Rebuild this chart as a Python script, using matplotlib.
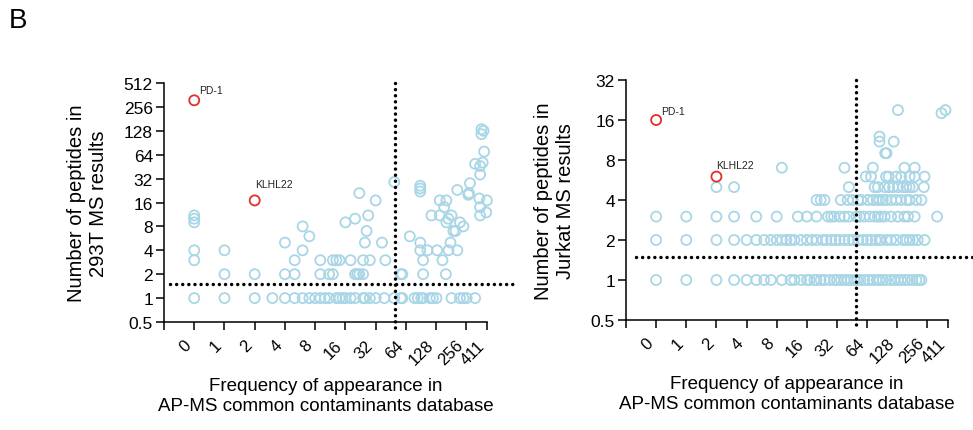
import numpy as np
import matplotlib
matplotlib.use("Agg")
import matplotlib.pyplot as plt
from matplotlib.ticker import NullLocator

plt.rcParams['font.family'] = ['Liberation Sans', 'DejaVu Sans']

# ---------------- data ----------------
x_ticks = [-1, 0, 1, 2, 4, 8, 16, 32, 64, 128, 256, 411]
x_tick_labels = ['', '0', '1', '2', '4', '8', '16', '32', '64', '128', '256', '411']
y_ticks_293t = [0.5, 1, 2, 4, 8, 16, 32, 64, 128, 256, 512]
y_ticks_jurkat = [0.5, 1, 2, 4, 8, 16, 32]

freq_cutoff = 50
pep_cutoff = 1.5

# 293T panel: (frequency in contaminant DB, peptides)
freq_293t = [0, 0, 0, 0, 0, 0, 1, 1, 1, 2, 2, 3, 4, 4, 4, 5, 5, 5, 6, 6, 6, 7, 7, 8,
             9, 9, 9, 10, 11, 11, 12, 12, 13, 13, 14, 14, 15, 16, 16, 18, 18,
             20, 20, 20, 21, 22, 22, 24, 24, 24, 25, 25, 26, 27, 28, 28, 32, 32,
             37, 39, 40, 49, 49, 57, 57, 59, 59, 70, 78, 84, 89, 89, 89, 89, 89,
             91, 95, 95, 95, 105, 111, 115, 119, 129, 131, 139, 139, 148, 154,
             160, 162, 162, 169, 170, 178, 182, 182, 190, 200, 208, 208, 221, 221,
             239, 239, 258, 268, 272, 278, 313, 313, 345, 351, 351, 351, 351,
             362, 362, 372, 380, 385, 404, 410]
pep_293t = [11, 10, 9, 4, 3, 1, 4, 2, 1, 2, 1, 1, 5, 2, 1, 3, 2, 1, 8, 4, 1, 6, 1, 1,
            3, 2, 1, 1, 2, 1, 3, 2, 3, 1, 3, 1, 1, 9, 1, 3, 1,
            10, 2, 1, 2, 21, 2, 3, 2, 1, 5, 1, 7, 11, 3, 1, 17, 1,
            5, 1, 3, 29, 1, 2, 1, 2, 1, 6, 1, 1, 26, 24, 22, 5, 4,
            1, 3, 2, 1, 4, 1, 11, 1, 1, 4, 17, 11, 3, 14,
            2, 17, 9, 10, 4, 5, 11, 1, 7, 7, 23, 4, 9, 1,
            8, 1, 1, 20, 21, 28, 49, 1, 18, 46, 36, 14, 11,
            134, 116, 51, 128, 70, 12, 17]

# Jurkat panel, grouped by peptide count
jurkat_freq_pep1 = [0, 1, 2, 3, 4, 5, 6, 7, 9, 11, 12, 14, 16, 17, 19, 20, 22, 24, 27, 30,
                    32, 35, 38, 41, 44, 48, 51, 55, 60, 66, 73, 80, 85, 92, 99, 110,
                    120, 130, 140, 152, 164, 180, 198, 212, 223]
jurkat_freq_pep2 = [0, 1, 2, 3, 4, 5, 6, 7, 8, 9, 10, 11, 12, 14, 16, 18, 20, 23, 25, 28,
                    31, 34, 38, 42, 46, 52, 58, 64, 70, 78, 85, 88, 100, 111, 125, 146,
                    158, 170, 184, 205, 240]
jurkat_freq_pep3 = [0, 1, 2, 3, 5, 8, 13, 16, 20, 26, 28, 30, 34, 38, 42, 50, 54, 60, 68,
                    76, 82, 88, 96, 111, 130, 151, 164, 191, 320]
jurkat_freq_pep4 = [20, 22, 24, 35, 41, 46, 52, 56, 65, 73, 80, 85, 92, 99, 111, 125, 140,
                    158, 170, 198, 223]
jurkat_freq_pep5 = [2, 3, 42, 76, 82, 96, 106, 116, 130, 146, 158, 170, 184, 236]
jurkat_freq_pep6 = [62, 70, 99, 105, 125, 140, 170, 191, 240]
jurkat_freq_pep7 = [9, 38, 73, 151, 191]
jurkat_freq_high = [130, 354, 388, 85, 85, 118, 97, 100]
jurkat_pep_high = [19, 18, 19, 12, 11, 11, 9, 9]

hl_names = ['PD-1', 'KLHL22']
hl_freq_293t = [0, 2]
hl_pep_293t = [310, 17]
hl_freq_jurkat = [0, 2]
hl_pep_jurkat = [16, 6]

# ---------------- helpers ----------------
blue = '#a9d6e6'
red = '#e0302a'


def fwd(f):
    f = np.asarray(f, dtype=float)
    return np.where(f >= 1, np.log2(np.maximum(f, 1)) + 1, f)


def inv(X):
    X = np.asarray(X, dtype=float)
    return np.where(X >= 1, 2.0 ** (X - 1), X)


freq_jurkat = (jurkat_freq_pep1 + jurkat_freq_pep2 + jurkat_freq_pep3 + jurkat_freq_pep4
               + jurkat_freq_pep5 + jurkat_freq_pep6 + jurkat_freq_pep7 + jurkat_freq_high)
pep_jurkat = ([1] * len(jurkat_freq_pep1) + [2] * len(jurkat_freq_pep2)
              + [3] * len(jurkat_freq_pep3) + [4] * len(jurkat_freq_pep4)
              + [5] * len(jurkat_freq_pep5) + [6] * len(jurkat_freq_pep6)
              + [7] * len(jurkat_freq_pep7) + jurkat_pep_high)


def panel(ax, fr, pep, hf, hp, yticks, ylabel, hl_offsets, hline_span, vline_bottom):
    ax.set_xscale('function', functions=(fwd, inv))
    ax.set_yscale('log', base=2)
    ax.scatter(fr, pep, s=52, facecolors='none', edgecolors=blue, linewidths=1.3,
               zorder=3, clip_on=False)
    ax.scatter(hf, hp, s=52, facecolors='none', edgecolors=red, linewidths=1.3,
               zorder=4, clip_on=False)
    for name, f, p, off in zip(hl_names, hf, hp, hl_offsets):
        ax.annotate(name, (f, p), xytext=off, textcoords='offset points',
                    ha='left', va='baseline', fontsize=7.5, color='#222222')
    ax.set_xlim(x_ticks[0], x_ticks[-1])
    ax.set_ylim(yticks[0], yticks[-1])
    ax.set_xticks(x_ticks)
    ax.set_xticklabels(x_tick_labels, rotation=45, ha='right', fontsize=12)
    ax.set_yticks(yticks)
    ax.set_yticklabels([f'{t:g}' for t in yticks], fontsize=12.5)
    ax.xaxis.set_minor_locator(NullLocator())
    ax.yaxis.set_minor_locator(NullLocator())
    for s in ['top', 'right']:
        ax.spines[s].set_visible(False)
    for s in ['left', 'bottom']:
        ax.spines[s].set_linewidth(1.1)
    ax.tick_params(axis='both', length=6, width=1.1, color='black')
    ax.tick_params(axis='y', pad=2)
    ax.tick_params(axis='x', pad=5)
    ax.set_ylabel(ylabel, fontsize=14.5, labelpad=11)
    ax.set_xlabel('Frequency of appearance in\nAP-MS common contaminants database',
                  fontsize=13.5, labelpad=7)
    dot = dict(color='black', lw=2.5, linestyle=(0, (0.01, 1.75)),
               dash_capstyle='round', clip_on=False, zorder=5)
    ax.plot(hline_span, [pep_cutoff, pep_cutoff], transform=ax.get_yaxis_transform(), **dot)
    ax.plot([freq_cutoff, freq_cutoff], [1.0, vline_bottom],
            transform=ax.get_xaxis_transform(), **dot)


fig = plt.figure(figsize=(9.73, 4.31), dpi=100)
ax1 = fig.add_axes([164 / 973, 108 / 431, 323 / 973, 239 / 431])
ax2 = fig.add_axes([626 / 973, 110 / 431, 322 / 973, 240 / 431])

panel(ax1, freq_293t, pep_293t, hl_freq_293t, hl_pep_293t, y_ticks_293t,
      'Number of peptides in\n293T MS results', [(3.5, 5), (0, 9.5)],
      [0.02, 1.087], -0.042)
panel(ax2, freq_jurkat, pep_jurkat, hl_freq_jurkat, hl_pep_jurkat, y_ticks_jurkat,
      'Number of peptides in\nJurkat MS results', [(3.5, 4.5), (0, 6.5)],
      [0.031, 1.08], -0.04)

fig.text(9 / 973, 1 - 8 / 431, 'B', fontsize=20, ha='left', va='top')

fig.savefig('out.png', dpi=100)
